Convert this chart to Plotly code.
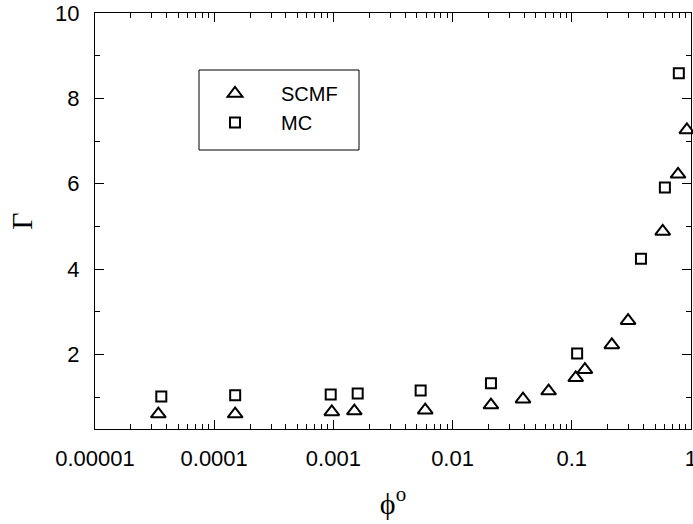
import plotly.graph_objects as go

# Adsorption ratio Gamma versus bulk volume fraction phi^o
scmf_phi = [3.4e-5, 1.5e-4, 9.7e-4, 1.5e-3, 5.9e-3, 0.021, 0.039, 0.064,
            0.108, 0.129, 0.217, 0.297, 0.58, 0.78, 0.925]
scmf_gamma = [0.60, 0.60, 0.65, 0.67, 0.69, 0.81, 0.95, 1.14,
              1.45, 1.64, 2.22, 2.79, 4.88, 6.22, 7.26]

mc_phi = [3.6e-5, 1.5e-4, 9.5e-4, 1.6e-3, 5.4e-3, 0.021, 0.111, 0.381, 0.605, 0.792]
mc_gamma = [1.01, 1.04, 1.06, 1.08, 1.15, 1.32, 2.02, 4.24, 5.91, 8.59]

x_tickvals = [1e-5, 1e-4, 1e-3, 1e-2, 1e-1, 1]
x_ticktext = ["0.00001", "0.0001", "0.001", "0.01", "0.1", "1"]
y_tickvals = [2, 4, 6, 8, 10]
y_minorvals = [1, 3, 5, 7, 9]

x_minorvals = [k * 10.0 ** e for e in range(-5, 0) for k in range(2, 10)]

sans = "Liberation Sans, Arial, sans-serif"
serif = "Liberation Serif, Times New Roman, serif"

fig = go.Figure()
fig.add_trace(go.Scatter(
    x=scmf_phi, y=scmf_gamma, mode="markers", name="SCMF",
    marker=dict(symbol="triangle-up-open", size=13, color="black",
                line=dict(width=2, color="black")),
    cliponaxis=False,
))
fig.add_trace(go.Scatter(
    x=mc_phi, y=mc_gamma, mode="markers", name="MC",
    marker=dict(symbol="square-open", size=10, color="black",
                line=dict(width=2, color="black")),
    cliponaxis=False,
))

axis_common = dict(
    showline=True, linecolor="black", linewidth=1, mirror="ticks",
    ticks="inside", ticklen=9, tickwidth=1, tickcolor="black",
    showgrid=False, zeroline=False, automargin=False,
    tickfont=dict(family=sans, size=22, color="black"),
    ticklabeloverflow="allow",
)

fig.update_xaxes(
    type="log", range=[-5, 0.0008],
    tickmode="array", tickvals=x_tickvals, ticktext=x_ticktext,
    minor=dict(tickmode="array", tickvals=x_minorvals, ticks="inside",
               ticklen=5, tickcolor="black", showgrid=False),
    ticklabelstandoff=10,
    title=dict(text="\u03d5<sup>o</sup>", font=dict(family=serif, size=30, color="black"),
               standoff=22),
    **axis_common,
)
fig.update_yaxes(
    range=[0.25, 10],
    tickmode="array", tickvals=y_tickvals,
    minor=dict(tickmode="array", tickvals=y_minorvals, ticks="inside",
               ticklen=5, tickcolor="black", showgrid=False),
    ticklabelstandoff=10,
    title=dict(text="\u0393", font=dict(family=serif, size=30, color="black"),
               standoff=13),
    **axis_common,
)

# legend frame
fig.add_shape(type="rect", xref="paper", yref="paper",
              x0=(199 - 95) / 596, x1=(359 - 95) / 596,
              y0=(429 - 150) / 416, y1=(429 - 70) / 416,
              line=dict(color="black", width=1))

fig.update_layout(
    width=693, height=524,
    margin=dict(l=95, r=2, t=13, b=95, autoexpand=False),
    paper_bgcolor="white", plot_bgcolor="white",
    showlegend=True,
    legend=dict(
        x=(189 - 95) / 596, y=(429 - 74) / 416, xanchor="left", yanchor="top",
        bgcolor="rgba(0,0,0,0)", borderwidth=0,
        itemwidth=82,
        font=dict(family=sans, size=20, color="black"),
    ),
)

fig.write_html("out.html")
